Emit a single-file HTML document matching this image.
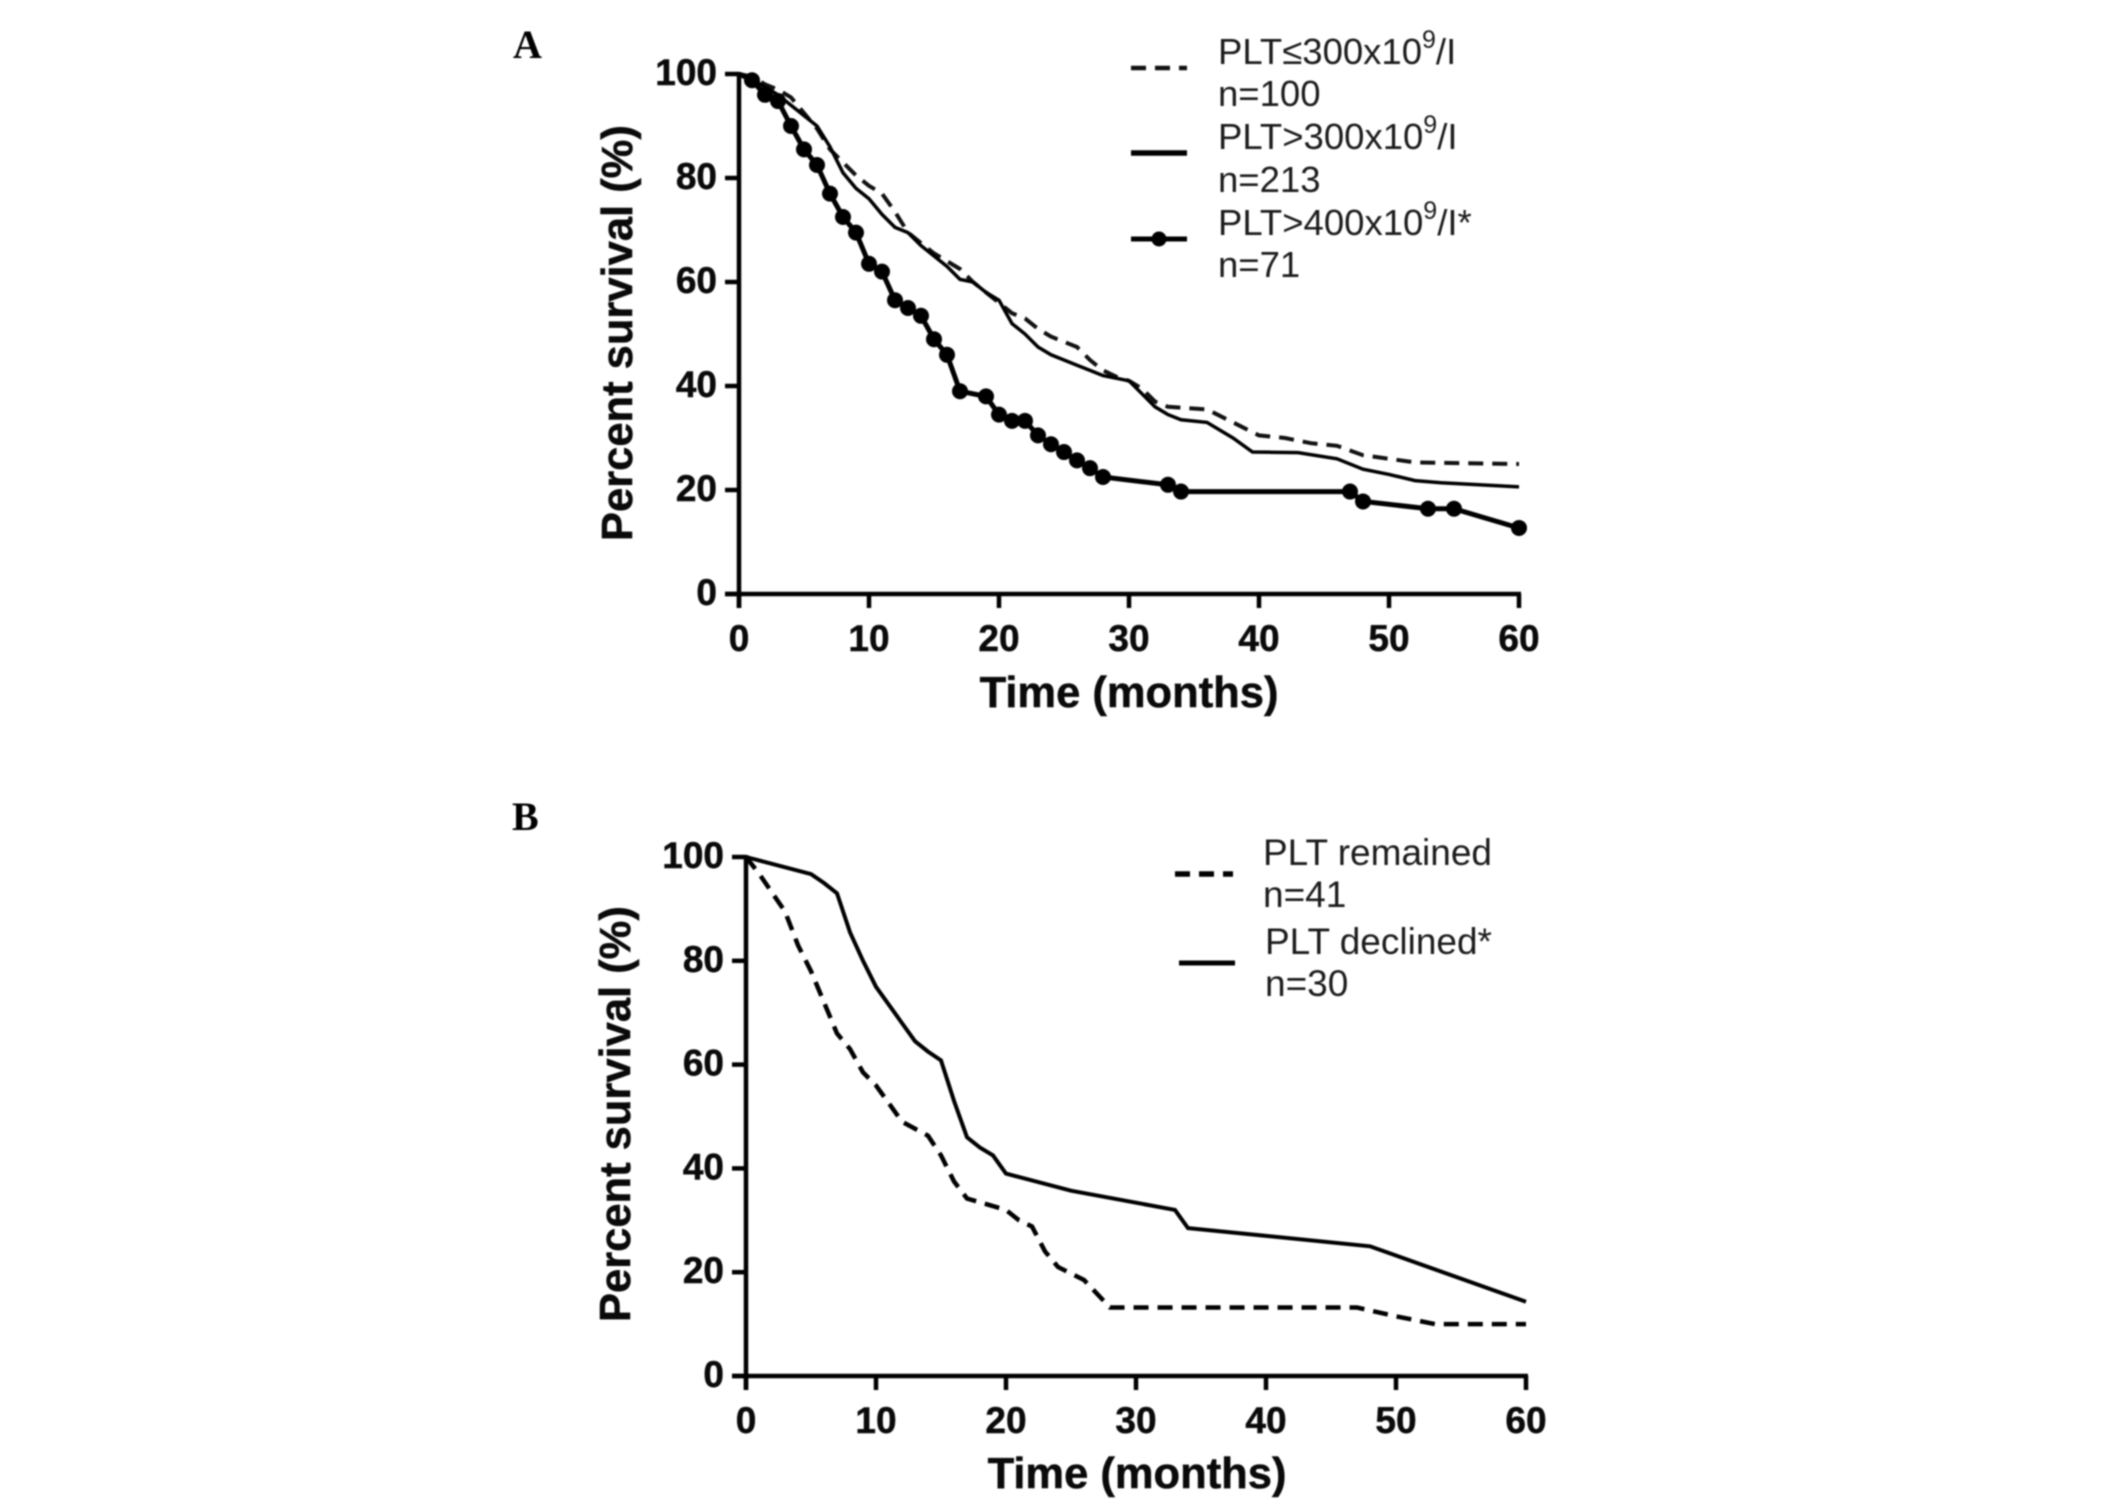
<!DOCTYPE html>
<html>
<head>
<meta charset="utf-8">
<title>Survival curves by platelet count</title>
<style>
html,body{margin:0;padding:0;background:#fff;}
#figure{display:block;width:2126px;height:1506px;filter:blur(0.8px);}
text{font-family:"Liberation Sans",sans-serif;fill:#0a0a0a;}
.tick{font-size:37px;font-weight:bold;stroke:#0a0a0a;stroke-width:0.5px;}
.title{font-size:43.5px;font-weight:bold;stroke:#0a0a0a;stroke-width:0.5px;}
.legend{font-size:36.5px;fill:#1c1c1c;}
.legend-b{font-size:37px;fill:#1c1c1c;}
.sup{font-size:25px;}
.letter{font-family:"Liberation Serif",serif;font-size:40px;font-weight:bold;fill:#000;}
</style>
</head>
<body>
<svg id="figure" xmlns="http://www.w3.org/2000/svg" width="2126" height="1506" viewBox="0 0 2126 1506">
  <rect width="2126" height="1506" fill="#fff"/>
  <text class="letter" x="513" y="58">A</text>
  <text class="letter" x="512" y="830">B</text>

  <g id="panelA"></g>
  <g id="panelB"></g>

  <g>
    <line x1="1131" x2="1187" y1="68" y2="68" stroke="#111" stroke-width="4.5" stroke-dasharray="15 9"/>
    <text class="legend" x="1218" y="64">PLT≤300x10<tspan class="sup" dy="-16">9</tspan><tspan dy="16">/I</tspan></text>
    <text class="legend" x="1218" y="106">n=100</text>
    <line x1="1131" x2="1187" y1="153" y2="153" stroke="#000" stroke-width="5.5"/>
    <text class="legend" x="1218" y="149">PLT&gt;300x10<tspan class="sup" dy="-16">9</tspan><tspan dy="16">/I</tspan></text>
    <text class="legend" x="1218" y="192">n=213</text>
    <line x1="1131" x2="1187" y1="239" y2="239" stroke="#000" stroke-width="5"/>
    <circle cx="1159" cy="239" r="7.5" fill="#000"/>
    <text class="legend" x="1218" y="235">PLT&gt;400x10<tspan class="sup" dy="-16">9</tspan><tspan dy="16">/I*</tspan></text>
    <text class="legend" x="1218" y="277">n=71</text>
  </g>

  <g>
    <line x1="1175" x2="1233" y1="874" y2="874" stroke="#000" stroke-width="5.5" stroke-dasharray="15 9"/>
    <text class="legend-b" x="1263" y="865">PLT remained</text>
    <text class="legend-b" x="1263" y="907">n=41</text>
    <line x1="1179" x2="1235" y1="963" y2="963" stroke="#000" stroke-width="5"/>
    <text class="legend-b" x="1265" y="954">PLT declined*</text>
    <text class="legend-b" x="1265" y="996">n=30</text>
  </g>
</svg>

<script>
// Shared tick labels
const xTickLabels = [0, 10, 20, 30, 40, 50, 60];
const yTickLabels = [0, 20, 40, 60, 80, 100];

// Panel A: PLT<=300
const aLowMonths = [0,1,2,3,4,5,6,7,8,9,10,11,12,13,14,15,16,17,18,19,20,21,22,23,24,25,26,27,28,29,30,31,32,33,36,38,40,42,44,46,48,50,52,60];
const aLowValues = [100,99.5,98,97,95.5,92.5,89.5,85.5,83,80.5,78.5,77,73.5,69.5,67.5,65.5,64,62.5,60,58,56,54,53,51,49.5,48.5,47.5,45,43,41.8,41,39.5,37,36,35.5,33,30.5,30,29,28.5,26.7,26,25.3,25];

// Panel A: PLT>300
const aHighMonths = [0,1,2,3,4,5,6,7,8,9,10,11,12,13,14,15,16,17,18,19,20,21,22,23,24,25,26,27,28,29,30,31,32,33,34,36,38,39.5,43,46,48,50,52,54,60];
const aHighValues = [100,99,97.5,96,94,92,90,86,81,78,76,73,70.5,69.5,67,65,63,60.5,60,58,56.5,52,50,47.5,46,45,44,43,42,41.5,41,38.5,36,34.5,33.5,33,30,27.3,27.2,26,24,23,21.8,21.4,20.6];

// Panel A: PLT>400 (every listed point carries a marker except month 0)
const aTopMonths = [0,1,2,3,4,5,6,7,8,9,10,11,12,13,14,15,16,17,19,20,21,22,23,24,25,26,27,28,33,34,47,48,53,55,60];
const aTopValues = [100,98.8,96,94.8,90,85.5,82.5,77,72.5,69.5,63.5,62,56.5,55,53.5,49,46,39,38,34.5,33.3,33.3,30.5,28.8,27.3,25.7,24.2,22.5,21,19.7,19.7,17.8,16.4,16.4,12.7];

// Panel B: PLT remained
const bRemainedMonths = [0,1,3,4,5,6,7,8,9,10,11,12,14,15,16,17,20,21,22,23,24,26,28,47,50,53,60];
const bRemainedValues = [100,96.8,89.5,83,78,72,66,63,58.5,56,52.5,49,46.3,42.5,37.5,34.2,32,30,28.8,24,21,18.5,13.2,13.2,11.5,10,10];

// Panel B: PLT declined
const bDeclinedMonths = [0,5,6,7,8,9,10,11,12,13,14,15,16,17,18,19,20,25,33,34,40,48,60];
const bDeclinedValues = [100,96.7,95,93,85.5,80,75,71.5,68,64.5,62.5,60.8,53,46,44,42.5,39,35.7,32,28.5,27,25,14.3];

const NS = 'http://www.w3.org/2000/svg';

function make(parent, tag, attrs, text) {
  const el = document.createElementNS(NS, tag);
  for (const k in attrs) el.setAttribute(k, attrs[k]);
  if (text !== undefined) el.textContent = text;
  parent.appendChild(el);
  return el;
}

function axisFns(g) {
  return {
    sx: m => g.x0 + (g.x60 - g.x0) * m / 60,
    sy: v => g.y0 - (g.y0 - g.y100) * v / 100
  };
}

function pathFor(months, values, fns) {
  return months.map((m, i) => (i ? 'L' : 'M') + fns.sx(m).toFixed(1) + ' ' + fns.sy(values[i]).toFixed(1)).join(' ');
}

function drawAxes(root, g, fns) {
  const yAxis = make(root, 'line', {x1: g.x0, x2: g.x0, y1: g.y100 - 2, y2: g.y0 + 14, stroke: '#000', 'stroke-width': 4.5});
  
  
  const xAxis = make(root, 'line', {x1: g.x0 - 14, x2: g.x60 + 2, y1: g.y0, y2: g.y0, stroke: '#000', 'stroke-width': 4.5});
  
  

  yTickLabels.forEach(v => {
    const tick = make(root, 'line', {x1: g.x0 - 14, x2: g.x0, y1: fns.sy(v), y2: fns.sy(v), stroke: '#000', 'stroke-width': 4.5});
    
    
    const label = make(root, 'text', {class: 'tick', x: g.x0 - 22, y: fns.sy(v) + 11, 'text-anchor': 'end'}, v);
    
    
  });

  xTickLabels.forEach(m => {
    const tick = make(root, 'line', {x1: fns.sx(m), x2: fns.sx(m), y1: g.y0, y2: g.y0 + 14, stroke: '#000', 'stroke-width': 4.5});
    
    
    const label = make(root, 'text', {class: 'tick', x: fns.sx(m), y: g.y0 + 57, 'text-anchor': 'middle'}, m);
    
    
  });

  const yTitle = make(root, 'text', {class: 'title', transform: 'translate(' + g.yTitleX + ' ' + g.yTitleY + ') rotate(-90)'}, 'Percent survival (%)');
  
  
  const xTitle = make(root, 'text', {class: 'title', x: g.xTitleX, y: g.xTitleY, 'text-anchor': 'middle'}, 'Time (months)');
  
  
}

// Panel A
const rootA = document.getElementById('panelA');
const geomA = {x0: 739, x60: 1519, y0: 594, y100: 74, yTitleX: 632, yTitleY: 541, xTitleX: 1129, xTitleY: 707};
const fnsA = axisFns(geomA);
drawAxes(rootA, geomA, fnsA);

const lineLow = make(rootA, 'path', {d: pathFor(aLowMonths, aLowValues, fnsA), fill: 'none', stroke: '#111', 'stroke-width': 4, 'stroke-dasharray': '15 9'});


const lineHigh = make(rootA, 'path', {d: pathFor(aHighMonths, aHighValues, fnsA), fill: 'none', stroke: '#000', 'stroke-width': 3.5});


const lineTop = make(rootA, 'path', {d: pathFor(aTopMonths, aTopValues, fnsA), fill: 'none', stroke: '#000', 'stroke-width': 5});


aTopMonths.forEach((m, i) => {
  if (i === 0) return;
  const dot = make(rootA, 'circle', {cx: fnsA.sx(m), cy: fnsA.sy(aTopValues[i]), r: 8, fill: '#000'});
  
  
});

// Panel B
const rootB = document.getElementById('panelB');
const geomB = {x0: 746, x60: 1526, y0: 1376, y100: 857, yTitleX: 630, yTitleY: 1322, xTitleX: 1137, xTitleY: 1488};
const fnsB = axisFns(geomB);
drawAxes(rootB, geomB, fnsB);

const lineRemained = make(rootB, 'path', {d: pathFor(bRemainedMonths, bRemainedValues, fnsB), fill: 'none', stroke: '#000', 'stroke-width': 4.5, 'stroke-dasharray': '15 9'});


const lineDeclined = make(rootB, 'path', {d: pathFor(bDeclinedMonths, bDeclinedValues, fnsB), fill: 'none', stroke: '#000', 'stroke-width': 4});


</script>
</body>
</html>
